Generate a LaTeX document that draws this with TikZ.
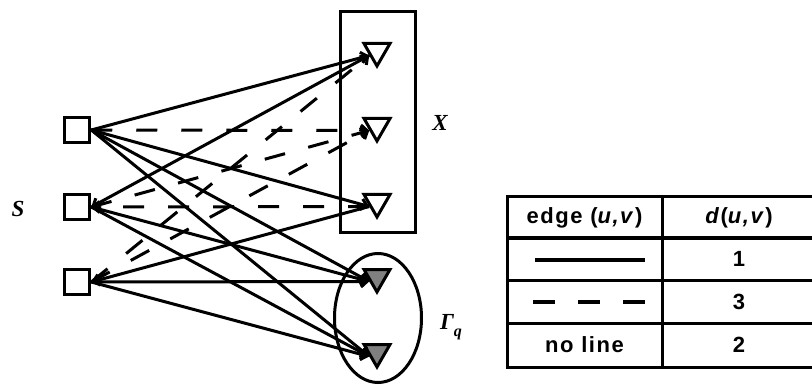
\documentclass[tikz,border=0pt]{standalone}
\usepackage{fontspec}
\setmainfont{Liberation Serif}
\newfontfamily\tabfont[LetterSpace=7]{Liberation Sans}
\usetikzlibrary{shapes.geometric,arrows.meta}

\begin{document}
\begin{tikzpicture}[x=1pt,y=-1pt,
    src/.style={draw,line width=3pt,fill=white,minimum size=25.5pt,inner sep=0pt},
    tri/.style={draw,line width=3pt,fill=white,regular polygon,regular polygon sides=3,shape border rotate=180,minimum size=30pt,inner sep=0pt},
    gtri/.style={tri,fill=gray},
    link/.style={line width=3pt,-{Straight Barb[length=6pt,width=11pt]}},
    dlink/.style={link,dash pattern=on 21pt off 24pt},
    lbl/.style={font=\fontsize{23}{25}\selectfont\bfseries\itshape},
    cell/.style={font=\tabfont\fontsize{22}{24}\selectfont\bfseries},
    rule/.style={line width=3pt}]
    \useasboundingbox (0,0) rectangle (812,385);
    % groups
    \node[draw,rule,minimum width=75pt,minimum height=221pt,inner sep=0pt] (xbox) at (378,122) {};
    \node[draw,rule,ellipse,minimum width=87pt,minimum height=129pt,inner sep=0pt] (gbox) at (378,318) {};
    % squares
    \node[src] (s1) at (77,130) {};\node[src] (s2) at (77,207) {};\node[src] (s3) at (77,282) {};
    % triangles
    \node[tri] (t1) at (377,51) {};\node[tri] (t2) at (377,126) {};\node[tri] (t3) at (377,202) {};
    \node[gtri] (g1) at (377,277) {};\node[gtri] (g2) at (377,352) {};
    % solid edges
    \draw[link] (s1.east) -- (t1.-150);\draw[link] (s1.east) -- (t3.-150);\draw[link] (s1.east) -- (g1.-150);\draw[link] (s1.east) -- (g2.-150);
    \draw[link] (t1.-150) -- (s2.east);\draw[link] (s2.east) -- (g1.-150);\draw[link] (s2.east) -- (g2.-150);
    \draw[link] (t3.-150) -- (s3.east);\draw[link] (s3.east) -- (g1.-150);\draw[link] (s3.east) -- (g2.-150);
    % dashed edges
    \draw[dlink] (s1.east) -- (t2.-150);\draw[dlink] (t3.-150) -- (s2.east);\draw[dlink] (s2.east) -- (t2.-150);
    \draw[dlink] (s3.east) -- (t2.-150);\draw[dlink] (s3.east) -- (t1.-150);
    % labels
    \node[lbl] (xl) at (440,123) {X};
    \node[lbl] (sl) at (18,209) {S};
    \node[lbl] (gl) at (451,327) {Γ\raisebox{-0.3em}{\fontsize{16}{16}\selectfont q}};
    % table
    \draw[rule] (507,197) rectangle (816,367);\draw[rule] (662,197) -- (662,367);
    \foreach \y in {238,280,323} \draw[rule] (507,\y) -- (816,\y);
    \node[cell] (h1) at (584.5,217.5) {edge (\textit{u,v})};
    \node[cell] (h2) at (739,217.5) {\textit{d}(\textit{u,v})};
    \coordinate (a1) at (535,260);\coordinate (a2) at (645,260);
    \coordinate (b1) at (533,302);\coordinate (b2) at (647,302);
    \draw[line width=3.5pt] (a1) -- (a2);
    \draw[line width=3.5pt,dash pattern=on 22pt off 23pt] (b1) -- (b2);
    \node[cell] (n1) at (584.5,345) {no line};
    \node[cell] (v1) at (739,259) {1};
    \node[cell] (v3) at (739,302) {3};
    \node[cell] (v2) at (739,345) {2};
\end{tikzpicture}
\end{document}
